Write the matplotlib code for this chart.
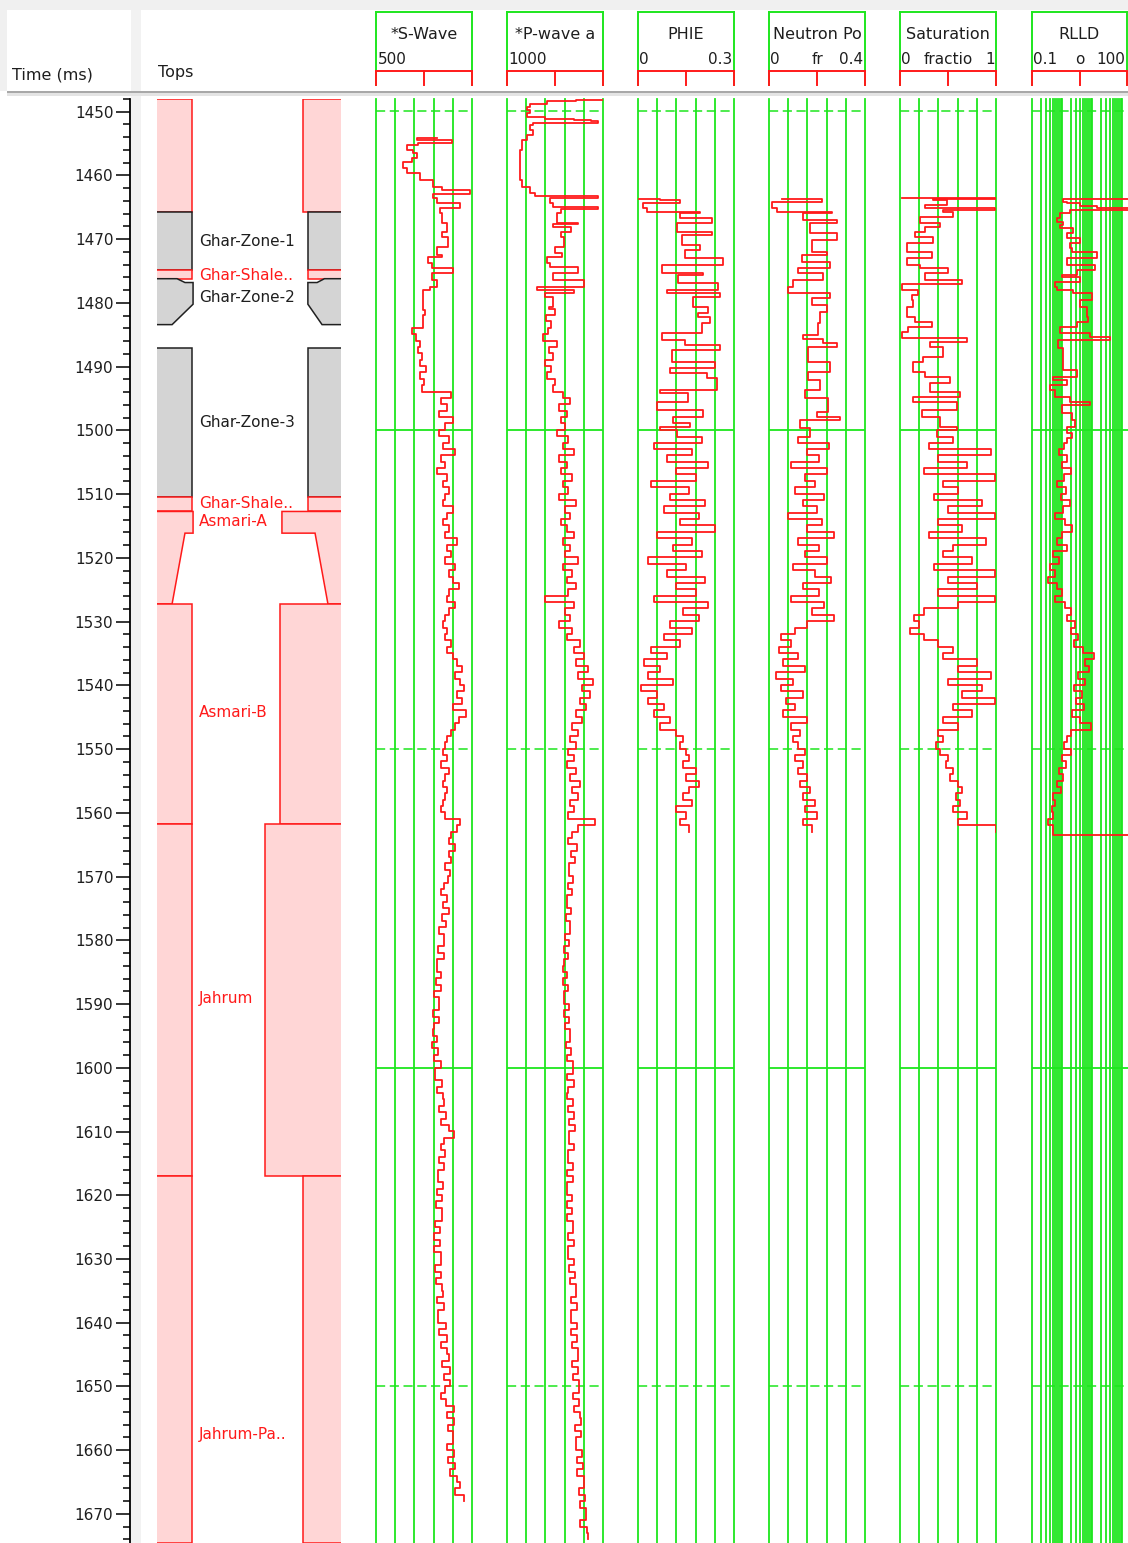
import numpy as np
import matplotlib.pyplot as plt
from matplotlib.patches import Polygon, Rectangle

# =========================
# 1) Values read off the log display (time in ms)
# =========================

# S-Wave (upper part: irregular picks, then every 1 ms)
sw_top_time = [1454.2, 1454.6, 1455.0, 1455.4, 1456.1, 1456.6, 1457.4, 1458.0, 1458.9, 1459.7,
               1460.8, 1461.9, 1462.4, 1463.0, 1463.6, 1464.4, 1465.2, 1466.0, 1467.6, 1469.0,
               1469.8, 1471.3, 1472.6, 1472.9, 1473.8, 1474.6, 1475.4, 1476.5, 1477.6, 1478.1,
               1480.1, 1481.2]
sw_top_vals = [2090, 1570, 2480, 1600, 1300, 1460, 1570, 1440, 1200, 1300,
               1640, 1980, 2220, 2940, 1980, 2090, 2680, 2160, 2220, 2350,
               2220, 2370, 2090, 2220, 1850, 1960, 2500, 1960, 2100, 1900,
               1720, 1720]
sw_mid_vals = [1770, 1720, 1720, 1450, 1550, 1650, 1600, 1700, 1650, 1800,
               1650, 1750, 1700, 2450, 2200, 2350, 2150, 2500, 2300, 2150,
               2400, 2250, 2550, 2200, 2300, 2100, 2350, 2250, 2400, 2300,
               2250, 2500, 2350, 2250, 2400, 2300, 2600, 2350, 2450, 2300,
               2550, 2400, 2500, 2650, 2400, 2350, 2550, 2400, 2300, 2250,
               2350, 2300, 2450, 2350, 2500, 2600, 2750, 2550, 2700, 2800,
               2600, 2750, 2500, 2850, 2650, 2550, 2450, 2350, 2300, 2250,
               2350, 2200, 2400, 2300, 2250, 2350, 2300, 2250, 2200, 2300,
               2700, 2600, 2450, 2400]
sw_low_vals = [2560, 2400, 2450, 2300, 2420, 2380, 2260, 2200, 2340, 2250,
               2400, 2230, 2310, 2150, 2260, 2260, 2120, 2280, 2100, 2080,
               2200, 2060, 2190, 2020, 2150, 2150, 1990, 2140, 2010, 1980,
               2100, 1960, 2120, 2000, 2180, 2040, 2040, 2220, 2080, 2250,
               2260, 2150, 2320, 2200, 2400, 2520, 2280, 2180, 2300, 2140,
               2270, 2110, 2110, 2250, 2080, 2230, 2060, 2210, 2210, 2040,
               2170, 2010, 2160, 2000, 2180, 2180, 2030, 2200, 2050, 2230,
               2250, 2100, 2280, 2120, 2120, 2310, 2150, 2340, 2180, 2360,
               2390, 2230, 2420, 2260, 2440, 2300, 2200, 2330, 2520, 2360,
               2540, 2380, 2500, 2500, 2350, 2530, 2380, 2560, 2420, 2600,
               2700, 2560, 2800]

# P-wave
pw_top_time = [1448.2, 1448.4, 1448.9, 1449.4, 1449.8, 1450.3, 1450.9, 1451.2, 1451.4, 1451.6,
               1451.9, 1452.2, 1453.0, 1453.8, 1454.5, 1456.1, 1458.0, 1460.8, 1461.9, 1462.9,
               1463.3, 1463.6, 1464.4, 1465.0, 1465.3, 1466.0, 1467.6, 1467.8, 1468.2, 1469.0,
               1469.8, 1471.3, 1472.3, 1472.9, 1473.8, 1474.5, 1475.4, 1476.5, 1477.6, 1478.1,
               1478.5, 1479.2, 1480.7]
pw_top_vals = [6000, 4580, 3100, 2210, 2050, 2210, 2050, 3000, 4500, 5370,
               5730, 2370, 2210, 2370, 2050, 1790, 1700, 1680, 1790, 2210,
               2470, 5730, 3260, 3400, 5730, 3790, 3600, 4680, 3420, 4310,
               3790, 3950, 3520, 3890, 3100, 3260, 4680, 3420, 5000, 2580,
               4470, 3000, 3370]
pw_mid_vals = [3200, 3500, 3050, 3300, 3150, 2900, 3600, 3200, 3400, 3000,
               3300, 3100, 3500, 3400, 3900, 4300, 3700, 4100, 3800, 4000,
               3600, 4200, 3900, 4500, 3700, 4100, 3800, 4400, 3900, 4200,
               3700, 4600, 4000, 4300, 3800, 4100, 4500, 3900, 4300, 4000,
               4700, 3900, 4400, 4100, 4600, 4200, 3000, 4500, 4000, 4300,
               3700, 4400, 4100, 4800, 4500, 5000, 4600, 5200, 4700, 5500,
               4900, 5300, 4800, 5100, 4600, 4900, 4400, 4700, 4300, 4600,
               4200, 4500, 4100, 4600, 4300, 4800, 4400, 4700, 4300, 4500,
               4200, 5600, 4700, 4400, 4200]
pw_low_vals = [4650, 4350, 4520, 4250, 4250, 4450, 4180, 4400, 4120, 4100,
               4320, 4060, 4280, 4280, 4020, 4250, 3980, 4200, 3950, 3930,
               4150, 3920, 4180, 3950, 3950, 4220, 3980, 4250, 4000, 4270,
               4300, 4050, 4330, 4100, 4450, 4450, 4150, 4480, 4170, 4150,
               4450, 4180, 4500, 4220, 4520, 4250, 4250, 4500, 4200, 4180,
               4430, 4150, 4420, 4130, 4130, 4400, 4120, 4380, 4100, 4420,
               4450, 4160, 4480, 4200, 4200, 4510, 4230, 4540, 4260, 4570,
               4600, 4310, 4620, 4330, 4330, 4640, 4350, 4660, 4370, 4680,
               4700, 4410, 4720, 4430, 4740, 4740, 4450, 4770, 4480, 4800,
               4840, 4550, 4880, 4590, 4590, 4920, 4630, 4950, 4660, 4990,
               5030, 4740, 5060, 4780, 5100, 5100, 4820, 5150, 5200]

# PHIE
phie_top_time = [1463.8, 1464.0, 1464.4, 1465.2, 1465.8, 1466.0, 1466.8, 1467.6, 1469.0, 1469.4,
                 1471.0, 1471.8, 1473.0, 1474.1, 1475.4, 1475.7, 1477.0, 1478.1, 1478.5, 1479.2,
                 1480.7, 1481.7, 1482.3, 1483.2, 1484.8, 1485.9, 1486.7, 1487.5, 1489.4, 1490.3,
                 1491.1, 1491.9, 1493.8, 1494.2, 1495.6, 1496.9, 1498.0, 1498.9, 1499.6, 1500.0,
                 1501.1]
phie_top_vals = [0.003, 0.07, 0.13, 0.016, 0.028, 0.194, 0.131, 0.231, 0.122, 0.231,
                 0.138, 0.194, 0.147, 0.266, 0.075, 0.203, 0.125, 0.25, 0.091, 0.256,
                 0.172, 0.219, 0.188, 0.225, 0.2, 0.075, 0.147, 0.256, 0.106, 0.24,
                 0.1, 0.216, 0.247, 0.069, 0.156, 0.059, 0.203, 0.109, 0.163, 0.069,
                 0.122]
phie_mid_vals = [0.20, 0.05, 0.17, 0.09, 0.22, 0.12, 0.18, 0.04, 0.16, 0.10,
                 0.21, 0.08, 0.19, 0.13, 0.24, 0.06, 0.17, 0.11, 0.20, 0.03,
                 0.15, 0.09, 0.21, 0.12, 0.18, 0.05, 0.22, 0.14, 0.19, 0.10,
                 0.17, 0.08, 0.13, 0.04, 0.09, 0.02, 0.07, 0.03, 0.11, 0.01,
                 0.06, 0.03, 0.08, 0.05, 0.10, 0.07, 0.12, 0.14, 0.13, 0.15,
                 0.16, 0.14, 0.18, 0.15, 0.19, 0.16, 0.14, 0.17, 0.12, 0.15,
                 0.13, 0.16]

# Neutron porosity
nphi_top_time = [1463.8, 1464.3, 1465.2, 1465.8, 1466.0, 1467.1, 1467.6, 1469.1, 1470.2, 1472.1,
                 1472.6, 1473.7, 1474.6, 1475.4, 1476.5, 1477.6, 1478.5, 1479.3, 1480.4, 1481.5,
                 1483.2, 1485.1, 1485.8, 1486.4, 1487.0, 1489.4, 1490.9, 1492.2, 1493.8, 1495.0,
                 1497.2, 1498.0, 1498.5, 1499.7, 1501.1]
nphi_top_vals = [0.054, 0.221, 0.0125, 0.033, 0.263, 0.142, 0.283, 0.171, 0.283, 0.179,
                 0.242, 0.1375, 0.254, 0.121, 0.225, 0.1, 0.079, 0.254, 0.179, 0.242,
                 0.2125, 0.204, 0.142, 0.225, 0.283, 0.1625, 0.254, 0.1625, 0.2125, 0.15,
                 0.246, 0.2, 0.296, 0.129, 0.171]
nphi_mid_vals = [0.12, 0.25, 0.16, 0.21, 0.09, 0.24, 0.15, 0.19, 0.11, 0.23,
                 0.14, 0.20, 0.08, 0.22, 0.16, 0.27, 0.12, 0.21, 0.15, 0.24,
                 0.10, 0.19, 0.26, 0.14, 0.21, 0.09, 0.23, 0.18, 0.27, 0.16,
                 0.11, 0.05, 0.09, 0.04, 0.12, 0.06, 0.15, 0.03, 0.10, 0.05,
                 0.14, 0.07, 0.11, 0.06, 0.16, 0.09, 0.13, 0.10, 0.12, 0.15,
                 0.11, 0.14, 0.12, 0.16, 0.13, 0.17, 0.14, 0.19, 0.15, 0.20,
                 0.14, 0.18]

# Saturation
sat_top_time = [1463.7, 1463.8, 1464.0, 1464.7, 1465.2, 1465.5, 1465.8, 1466.6, 1467.6, 1468.2,
                1469.0, 1469.8, 1470.7, 1472.1, 1473.1, 1474.1, 1474.6, 1475.4, 1476.5, 1477.1,
                1478.1, 1478.9, 1479.6, 1480.7, 1482.3, 1483.1, 1483.9, 1484.7, 1485.6, 1486.2,
                1487.0, 1488.6, 1489.4, 1490.9, 1491.7, 1492.7, 1494.1, 1494.8, 1495.6, 1496.9,
                1498.0, 1499.6, 1500.0, 1501.1]
sat_top_vals = [0.02, 1.0, 0.344, 0.49, 0.26, 0.99, 0.448, 0.552, 0.208, 0.417,
                0.26, 0.156, 0.344, 0.073, 0.333, 0.073, 0.208, 0.5, 0.26, 0.646,
                0.02, 0.1875, 0.125, 0.135, 0.073, 0.156, 0.333, 0.083, 0.02, 0.698,
                0.3125, 0.448, 0.24, 0.135, 0.26, 0.52, 0.3125, 0.625, 0.135, 0.594,
                0.229, 0.417, 0.594, 0.385]
sat_mid_vals = [0.55, 0.30, 0.95, 0.40, 0.70, 0.25, 0.99, 0.45, 0.60, 0.35,
                0.85, 0.50, 0.99, 0.40, 0.65, 0.30, 0.90, 0.55, 0.45, 0.75,
                0.35, 0.99, 0.50, 0.80, 0.40, 0.99, 0.60, 0.25, 0.15, 0.20,
                0.10, 0.25, 0.40, 0.55, 0.45, 0.80, 0.60, 0.95, 0.50, 0.85,
                0.65, 0.99, 0.55, 0.75, 0.45, 0.60, 0.40, 0.45, 0.38, 0.42,
                0.50, 0.48, 0.55, 0.52, 0.60, 0.65, 0.58, 0.62, 0.55, 0.70,
                0.60, 1.0]

# RLLD (ohm.m)
rlld_top_time = [1463.8, 1464.3, 1464.4, 1464.9, 1465.2, 1465.5, 1466.0, 1466.8, 1467.4, 1467.9,
                 1468.3, 1469.1, 1469.9, 1470.7, 1471.5, 1472.1, 1473.1, 1474.1, 1474.9, 1475.7,
                 1476.0, 1476.8, 1477.6, 1478.1, 1478.5, 1479.6, 1480.7, 1482.3, 1483.1, 1483.9,
                 1484.8, 1485.4, 1485.9, 1487.2, 1489.5, 1490.6, 1491.7, 1492.2, 1493.0, 1493.8,
                 1494.8, 1495.6, 1496.1, 1497.4, 1498.5, 1499.6, 1500.5, 1501.3]
rlld_top_vals = [300, 1.08, 1.47, 3.98, 14.7, 300, 1.85, 0.86, 0.68, 1.08,
                 0.86, 2.33, 1.47, 3.98, 1.85, 2.15, 14.7, 1.47, 12.6, 3.16,
                 1.0, 3.98, 0.585, 0.68, 2.33, 10.0, 3.98, 6.8, 7.36, 3.16,
                 0.86, 8.6, 39.8, 0.74, 1.08, 1.08, 3.16, 0.5, 1.47, 0.4,
                 0.585, 1.85, 8.6, 1.0, 2.15, 2.7, 1.47, 2.15]
rlld_mid_vals = [1.47, 1.2, 0.8, 1.5, 1.0, 2.0, 1.2, 0.7, 1.4, 0.9,
                 1.8, 1.1, 0.6, 1.3, 2.2, 1.0, 0.7, 1.5, 0.5, 0.8,
                 0.4, 0.6, 0.35, 0.7, 1.0, 0.6, 1.3, 2.0, 1.5, 2.8,
                 2.0, 3.5, 2.5, 5.0, 12.0, 6.0, 8.0, 3.5, 6.0, 2.5,
                 4.5, 3.0, 5.5, 2.2, 4.0, 9.0, 2.0, 1.5, 1.2, 2.0,
                 1.0, 1.4, 0.8, 1.1, 0.7, 0.9, 0.5, 0.6, 0.45, 0.5,
                 0.35, 0.5]
rlld_end_time = [1563.5, 1563.6]
rlld_end_vals = [0.5, 300]

# Formation tops
top_names = ["", "Ghar-Zone-1", "Ghar-Shale..", "Ghar-Zone-2", "", "Ghar-Zone-3",
             "Ghar-Shale..", "Asmari-A", "Asmari-B", "Jahrum", "Jahrum-Pa.."]
top_times = [1448.1, 1465.8, 1475.0, 1476.3, 1483.5, 1487.2, 1510.5, 1512.8, 1527.3, 1561.8, 1617.0]
top_label_times = [None, 1470.4, 1475.8, 1479.2, None, 1498.9, 1511.6, 1514.3, 1544.4, 1589.2, 1657.5]
top_kind = ["shale", "zone", "shale", "zone", "gap", "zone", "shale", "shale", "shale", "shale", "shale"]

# =========================
# 2) Assemble the curves
# =========================
sw_time = np.concatenate([sw_top_time, np.arange(1482, 1566), np.arange(1566, 1669)])
sw_vals = np.concatenate([sw_top_vals, sw_mid_vals, sw_low_vals])
pw_time = np.concatenate([pw_top_time, np.arange(1481, 1566), np.arange(1566, 1675)])
pw_vals = np.concatenate([pw_top_vals, pw_mid_vals, pw_low_vals])
phie_time = np.concatenate([phie_top_time, np.arange(1502, 1564)])
phie_vals = np.concatenate([phie_top_vals, phie_mid_vals])
nphi_time = np.concatenate([nphi_top_time, np.arange(1502, 1564)])
nphi_vals = np.concatenate([nphi_top_vals, nphi_mid_vals])
sat_time = np.concatenate([sat_top_time, np.arange(1502, 1564)])
sat_vals = np.concatenate([sat_top_vals, sat_mid_vals])
rlld_time = np.concatenate([rlld_top_time, np.arange(1502, 1564), rlld_end_time])
rlld_vals = np.concatenate([rlld_top_vals, rlld_mid_vals, rlld_end_vals])

# =========================
# 3) Layout (pixels)
# =========================
W, H = 1128, 1543
T_TOP, T_BOT = 1448.12, 1674.56
RED = "#ff1a1a"
GREEN = "#1ee61e"
PINK = "#ffd6d6"
GREY = "#d4d4d4"
TXT = "#1e1e1e"

plt.rcParams["font.family"] = ["DejaVu Sans"]
fig = plt.figure(figsize=(W / 100, H / 100), dpi=100)
fig.patch.set_facecolor("white")


def px_axes(x0, y0, x1, y1):
    return fig.add_axes([x0 / W, 1 - y1 / H, (x1 - x0) / W, (y1 - y0) / H])


def px_rect(x0, y0, x1, y1, color):
    fig.add_artist(Rectangle((x0 / W, 1 - y1 / H), (x1 - x0) / W, (y1 - y0) / H,
                             transform=fig.transFigure, facecolor=color,
                             edgecolor="none", zorder=0))


# frame pieces of the display window
px_rect(0, 0, W, 10, "#f0f0f0")
px_rect(0, 10, 7, 91, "#f0f0f0")
px_rect(131, 10, 141, H, "#f2f2f2")
px_rect(7, 90.5, W, 92.5, "#a8a8a8")
px_rect(7, 92.5, W, 96, "#e4e4e4")

fig.text(12 / W, 1 - 75 / H, "Time (ms)", ha="left", va="center", fontsize=11.5, color=TXT)
fig.text(158 / W, 1 - 73 / H, "Tops", ha="left", va="center", fontsize=11.5, color=TXT)

# time axis
dax = px_axes(130, 99, 130.5, H)
dax.set_ylim(T_BOT, T_TOP)
dax.set_xticks([])
for s in ("top", "right", "bottom"):
    dax.spines[s].set_visible(False)
dax.spines["left"].set_linewidth(1.3)
dax.set_yticks(np.arange(1450, 1671, 10))
dax.set_yticks(np.arange(1448, 1675, 2), minor=True)
dax.tick_params(axis="y", which="major", length=10, width=1.1, labelsize=11, pad=2, labelcolor=TXT)
dax.tick_params(axis="y", which="minor", length=5, width=1.1)
dax.patch.set_alpha(0)

# tops track
tax = px_axes(157, 99, 341, H)
tax.set_xlim(0, 1)
tax.set_ylim(T_BOT, T_TOP)
tax.axis("off")
bases = top_times[1:] + [T_BOT]
inner_right = [0.793, 0.82, 0.82, 0.82, 0, 0.82, 0.82, 0.679, 0.668, 0.587, 0.793]
for i, name in enumerate(top_names):
    t, b, kind = top_times[i], bases[i], top_kind[i]
    if kind == "gap":
        continue
    fc, ec = (PINK, RED) if kind == "shale" else (GREY, "#202020")
    L, R = 0.19, inner_right[i]
    if name == "Ghar-Zone-2":
        left = [(-0.1, t), (0.109, t), (0.152, t + 0.6), (0.196, t + 0.6), (0.196, b - 3.2),
                (0.082, b), (-0.1, b)]
        right = [(0.82, t + 0.6), (0.87, t + 0.6), (0.91, t), (1.1, t), (1.1, b), (0.897, b),
                 (0.82, b - 3.2)]
    elif name == "Asmari-A":
        left = [(-0.1, t), (0.196, t), (0.196, t + 3.4), (0.152, t + 3.4), (0.082, b), (-0.1, b)]
        right = [(R, t), (1.1, t), (1.1, b), (0.929, b), (0.859, t + 3.4), (R, t + 3.4)]
    else:
        left = [(-0.1, t), (L, t), (L, b), (-0.1, b)]
        right = [(R, t), (1.1, t), (1.1, b), (R, b)]
    for poly in (left, right):
        tax.add_patch(Polygon(poly, closed=True, facecolor=fc, edgecolor=ec, lw=1.1))
    if top_label_times[i] is not None:
        tax.text(0.228, top_label_times[i], name, ha="left", va="center", fontsize=11,
                 color=TXT if kind == "zone" else RED)

# log tracks
tracks = [
    dict(x=(376, 472), title="*S-Wave", scale=("500", "", ""), lim=(500, 3000),
         grid=np.linspace(500, 3000, 6), t=sw_time, v=sw_vals, log=False),
    dict(x=(507, 603), title="*P-wave a", scale=("1000", "", ""), lim=(1000, 6000),
         grid=np.linspace(1000, 6000, 6), t=pw_time, v=pw_vals, log=False),
    dict(x=(638, 734), title="PHIE", scale=("0", "", "0.3"), lim=(0, 0.3),
         grid=np.linspace(0, 0.3, 6), t=phie_time, v=phie_vals, log=False),
    dict(x=(769, 865), title="Neutron Po", scale=("0", "fr", "0.4"), lim=(0, 0.4),
         grid=np.linspace(0, 0.4, 6), t=nphi_time, v=nphi_vals, log=False),
    dict(x=(900, 996), title="Saturation", scale=("0", "fractio", "1"), lim=(0, 1),
         grid=np.linspace(0, 1, 6), t=sat_time, v=sat_vals, log=False),
    dict(x=(1032, 1128), title="RLLD", scale=("0.1", "o", "100"), lim=(0.1, 10 ** 2.2),
         grid=[k * 10.0 ** e for e in (-1, 0, 1, 2) for k in range(1, 10)], t=rlld_time,
         v=rlld_vals, log=True),
]

for tr in tracks:
    x0, x1 = tr["x"]
    # header box
    hx = px_axes(x0, 12, min(x1, W - 1), 85)
    hx.set_xlim(0, 1)
    hx.set_ylim(0, 1)
    hx.set_xticks([])
    hx.set_yticks([])
    for s in ("top", "left", "right"):
        hx.spines[s].set_color(GREEN)
        hx.spines[s].set_linewidth(1.4)
    hx.spines["bottom"].set_visible(False)
    hx.plot([0, 1], [0.19, 0.19], color=RED, lw=1.4, clip_on=False, zorder=5)
    for xt in (0, 0.5, 1):
        hx.plot([xt, xt], [0, 0.19], color=RED, lw=1.4, clip_on=False, zorder=5)
    hx.text(0.5, 0.69, tr["title"], ha="center", va="center", fontsize=11.5, color=TXT,
            clip_on=True)
    lo, mid, hi = tr["scale"]
    hx.text(0.015, 0.35, lo, ha="left", va="center", fontsize=11, color=TXT)
    hx.text(0.5, 0.35, mid, ha="center", va="center", fontsize=11, color=TXT)
    hx.text(0.985, 0.35, hi, ha="right", va="center", fontsize=11, color=TXT)

    # data track
    ax = px_axes(x0, 99, x1, H)
    if tr["log"]:
        ax.set_xscale("log")
    ax.set_xlim(*tr["lim"])
    ax.set_ylim(T_BOT, T_TOP)
    ax.axis("off")
    for g in tr["grid"]:
        if tr["lim"][0] <= g <= tr["lim"][1]:
            ax.axvline(g, color=GREEN, lw=1.3, clip_on=False, zorder=1)
    for t in (1500, 1600):
        ax.axhline(t, color=GREEN, lw=1.3, zorder=1)
    for t in (1450, 1550, 1650):
        ax.axhline(t, color=GREEN, lw=1.1, ls=(0, (6, 3)), zorder=1)
    ax.plot(tr["v"], tr["t"], color=RED, lw=1.3, drawstyle="steps-post", zorder=3)

fig.savefig("out.png", dpi=100)
